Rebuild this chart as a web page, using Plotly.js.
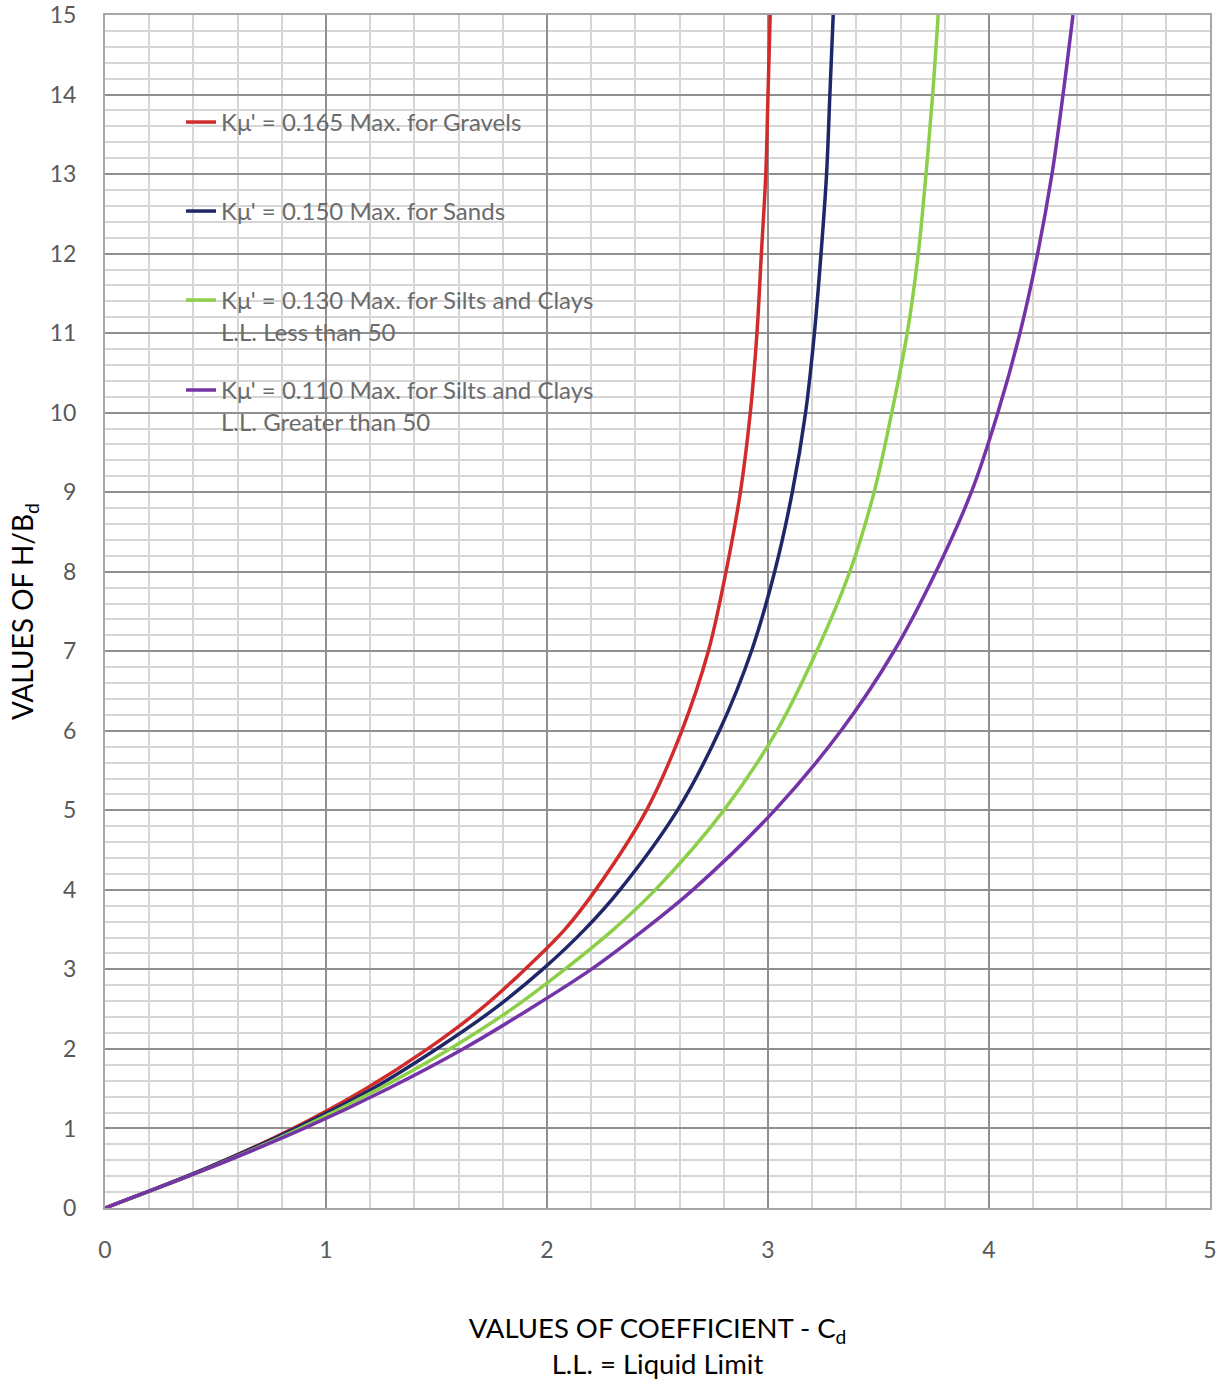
<!DOCTYPE html>
<html>
<head>
<meta charset="utf-8">
<script src="https://cdn.plot.ly/plotly-3.0.1.min.js"></script>
<style>html,body{margin:0;padding:0;background:#fff;}#chart{width:1225px;height:1384px;}</style>
</head>
<body>
<div id="chart"></div>
<script>
const hbd = [0, 0.5, 1, 1.5, 2, 2.5, 3, 3.5, 4, 5, 6, 7, 8, 9, 10, 11, 12, 13, 14, 15];
// Cd values read for each curve
const cdGravels = [0, 0.46, 0.85, 1.18, 1.46, 1.70, 1.90, 2.08, 2.22, 2.45, 2.61, 2.73, 2.81, 2.875, 2.92, 2.95, 2.97, 2.99, 3.00, 3.01];
const cdSands   = [0, 0.46, 0.86, 1.21, 1.50, 1.76, 1.98, 2.17, 2.33, 2.59, 2.78, 2.925, 3.03, 3.11, 3.17, 3.21, 3.24, 3.265, 3.28, 3.295];
const cdSiltsLow  = [0, 0.47, 0.88, 1.24, 1.56, 1.84, 2.08, 2.30, 2.49, 2.80, 3.04, 3.22, 3.37, 3.48, 3.56, 3.63, 3.68, 3.715, 3.745, 3.77];
const cdSiltsHigh = [0, 0.47, 0.90, 1.28, 1.62, 1.92, 2.20, 2.44, 2.66, 3.03, 3.33, 3.57, 3.76, 3.92, 4.04, 4.14, 4.22, 4.285, 4.335, 4.38];

const seriesNames = [
  "Kμ' = 0.165 Max. for Gravels",
  "Kμ' = 0.150 Max. for Sands",
  "Kμ' = 0.130 Max. for Silts and Clays<br>L.L. Less than 50",
  "Kμ' = 0.110 Max. for Silts and Clays<br>L.L. Greater than 50"
];
const seriesColors = ['#D22B2B', '#1F2769', '#8CCF48', '#7434A8'];
const seriesData = [cdGravels, cdSands, cdSiltsLow, cdSiltsHigh];
const legendIds = ['legend', 'legend2', 'legend3', 'legend4'];

const xTicks = [0, 1, 2, 3, 4, 5];
const yTicks = [0,1,2,3,4,5,6,7,8,9,10,11,12,13,14,15];

const traces = seriesData.map((xs, i) => ({
  x: xs, y: hbd, type: 'scatter', mode: 'lines',
  name: seriesNames[i],
  legend: legendIds[i],
  line: {color: seriesColors[i], width: 3.5, shape: 'spline', smoothing: 1},
  hoverinfo: 'skip'
}));

const font = "Lato, 'Open Sans', sans-serif";
const legendBase = (y) => ({
  x: 0.0688, y: y, xanchor: 'left', yanchor: 'top',
  bgcolor: 'rgba(0,0,0,0)', borderwidth: 0,
  font: {family: font, size: 24, color: '#6b6b6b'},
  valign: 'top', itemwidth: 30
});

const layout = {
  width: 1225, height: 1384,
  margin: {l: 105, r: 15, t: 15, b: 176},
  paper_bgcolor: '#ffffff', plot_bgcolor: '#ffffff',
  font: {family: font, color: '#595959', size: 20},
  showlegend: true,
  legend: legendBase(0.9288),
  legend2: legendBase(0.8542),
  legend3: legendBase(0.7796),
  legend4: legendBase(0.7042),
  xaxis: {
    range: [0, 5], tickvals: xTicks, ticktext: xTicks.map(String),
    showgrid: true, gridcolor: '#8f8f8f', gridwidth: 2,
    minor: {dtick: 0.2, showgrid: true, gridcolor: '#d6d6d6', gridwidth: 2, ticks: ''},
    zeroline: false, showline: true, linecolor: '#a6a6a6', linewidth: 2, mirror: true,
    ticks: '', ticklabelstandoff: 20,
    tickfont: {family: font, size: 23, color: '#595959'},
    title: {text: 'VALUES OF COEFFICIENT - C<sub>d</sub><br>L.L. = Liquid Limit',
      font: {family: font, size: 27.5, color: '#000000'}, standoff: 57}
  },
  yaxis: {
    range: [0, 15], tickvals: yTicks, ticktext: yTicks.map(String),
    showgrid: true, gridcolor: '#8f8f8f', gridwidth: 2,
    minor: {dtick: 0.2, showgrid: true, gridcolor: '#d6d6d6', gridwidth: 2, ticks: ''},
    zeroline: false, showline: true, linecolor: '#a6a6a6', linewidth: 2, mirror: true,
    ticks: '', ticklabelstandoff: 22,
    tickfont: {family: font, size: 23, color: '#595959'},
    title: {text: 'VALUES OF H/B<sub>d</sub>',
      font: {family: font, size: 28, color: '#000000'}, standoff: 8}
  }
};

Plotly.newPlot('chart', traces, layout, {staticPlot: true, displayModeBar: false});
</script>
</body>
</html>
